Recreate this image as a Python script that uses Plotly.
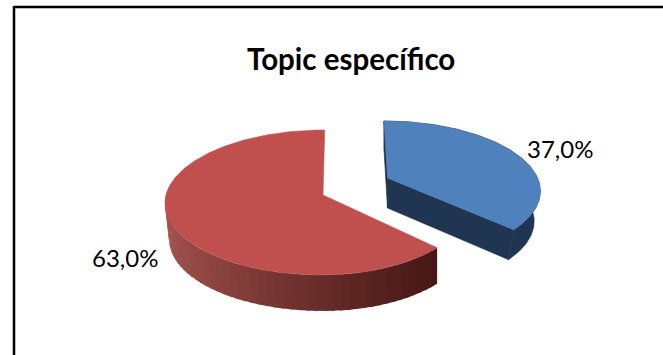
import numpy as np
import plotly.graph_objects as go

# Data
categories = ["Sim", "Não"]
values = [37.0, 63.0]
title_text = "Topic específico"
top_colors = ["#4F81BD", "#C0504D"]
wall_color_blue = "#1F3552"
wall_left = np.array([166, 84, 80])
wall_right = np.array([70, 24, 22])

W, H = 663, 355
# per-slice projection settings: apex position, radii, perspective, skew, depth, wall convergence
proj = {
    0: dict(x0=387.5, y0=178, ax=150, ay=150, b=66.7, k=0.17, sk=3.5, depth=30, vp=387, s=0.04),
    1: dict(x0=323, y0=195, ax=157, ay=147, b=71.7, k=0.103, sk=-1.7, depth=36, vp=438, s=0.015),
}


def project(p, u, v, lower=False):
    u, v = np.asarray(u, float), np.asarray(v, float)
    a = np.where(u < 0, p["ax"], p["ay"])
    d = 1 - p["k"] * v
    x = p["x0"] + a * u / d + p["sk"] * v
    y = p["y0"] + p["b"] * v / d
    if lower:
        x = x + (p["vp"] - x) * p["s"]
        y = y + p["depth"]
    return x, y


def arc(t0, t1, n=120):
    t = np.radians(np.linspace(t0, t1, n))
    return np.sin(t), -np.cos(t)


def poly(fig, x, y, color, line=None, width=0.6):
    fig.add_trace(go.Scatter(
        x=list(x) + [x[0]], y=list(y) + [y[0]], mode="lines", fill="toself",
        fillcolor=color, line=dict(color=line or color, width=width),
        hoverinfo="skip", showlegend=False))


fig = go.Figure()
total = sum(values)
end_blue = 360 * values[0] / total

# Blue slice: clockwise from 12 o'clock
p = proj[0]
u, v = arc(0, end_blue)
xt, yt = project(p, u, v)
xb, yb = project(p, u, v, lower=True)
ax_t, ay_t = project(p, [0.0], [0.0])
ax_b, ay_b = project(p, [0.0], [0.0], lower=True)
# back radial face (thin sliver on the left)
poly(fig, [ax_t[0], xt[0], xb[0], ax_b[0]], [ay_t[0], yt[0], yb[0], ay_b[0]], "#18293F")
# outer wall
poly(fig, list(xt) + list(xb[::-1]), list(yt) + list(yb[::-1]), wall_color_blue)
# front radial face
poly(fig, [ax_t[0], xt[-1], xb[-1], ax_b[0]], [ay_t[0], yt[-1], yb[-1], ay_b[0]], wall_color_blue)
# top face
poly(fig, [ax_t[0]] + list(xt), [ay_t[0]] + list(yt), top_colors[0])

# Red slice: from the end of blue on to 360 degrees
p = proj[1]
u, v = arc(end_blue, 360, n=240)
xt, yt = project(p, u, v)
xb, yb = project(p, u, v, lower=True)
ax_t, ay_t = project(p, [0.0], [0.0])
xmin, xmax = xt.min(), xt[0]
# outer wall, shaded from right to left; each band overlaps the last one so no seams show
for i in range(0, 150, 3):
    j = i + 5
    f = (0.5 * (xt[i] + xt[min(j - 1, len(xt) - 1)]) - xmin) / (xmax - xmin)
    f = float(np.clip(f, 0, 1))
    c = wall_left + (wall_right - wall_left) * f ** 0.75
    col = "rgb(%d,%d,%d)" % tuple(c)
    poly(fig, list(xt[i:j]) + list(xb[i:j][::-1]), list(yt[i:j]) + list(yb[i:j][::-1]), col, width=0)
# top face
poly(fig, [ax_t[0]] + list(xt), [ay_t[0]] + list(yt), top_colors[1])

# Data labels
label_pos = [(560, 148.5), (125, 257.5)]
for val, (lx, ly) in zip(values, label_pos):
    fig.add_annotation(x=lx, y=ly, text=f"{val:.1f}%".replace(".", ","), showarrow=False,
                       font=dict(family="Lato, 'Open Sans', sans-serif", size=24, color="#000000"))

fig.add_annotation(x=351, y=58, text=f"<b>{title_text}</b>", showarrow=False,
                   font=dict(family="Lato, 'Open Sans', sans-serif", size=29.5, color="#000000"))

# Chart frame: only the top and left edges are in view
fig.add_shape(type="line", x0=14, x1=W, y0=7, y1=7, line=dict(color="#000000", width=2.5))
fig.add_shape(type="line", x0=14, x1=14, y0=6, y1=H, line=dict(color="#000000", width=2.5))

fig.update_layout(
    width=W, height=H, margin=dict(l=0, r=0, t=0, b=0),
    paper_bgcolor="white", plot_bgcolor="white", showlegend=False,
    xaxis=dict(range=[0, W], visible=False, fixedrange=True),
    yaxis=dict(range=[H, 0], visible=False, fixedrange=True),
)
fig.write_html("out.html", config=dict(displayModeBar=False),
               post_script="document.body.style.margin='0';document.documentElement.style.overflow='hidden';window.dispatchEvent(new Event('resize'));")
